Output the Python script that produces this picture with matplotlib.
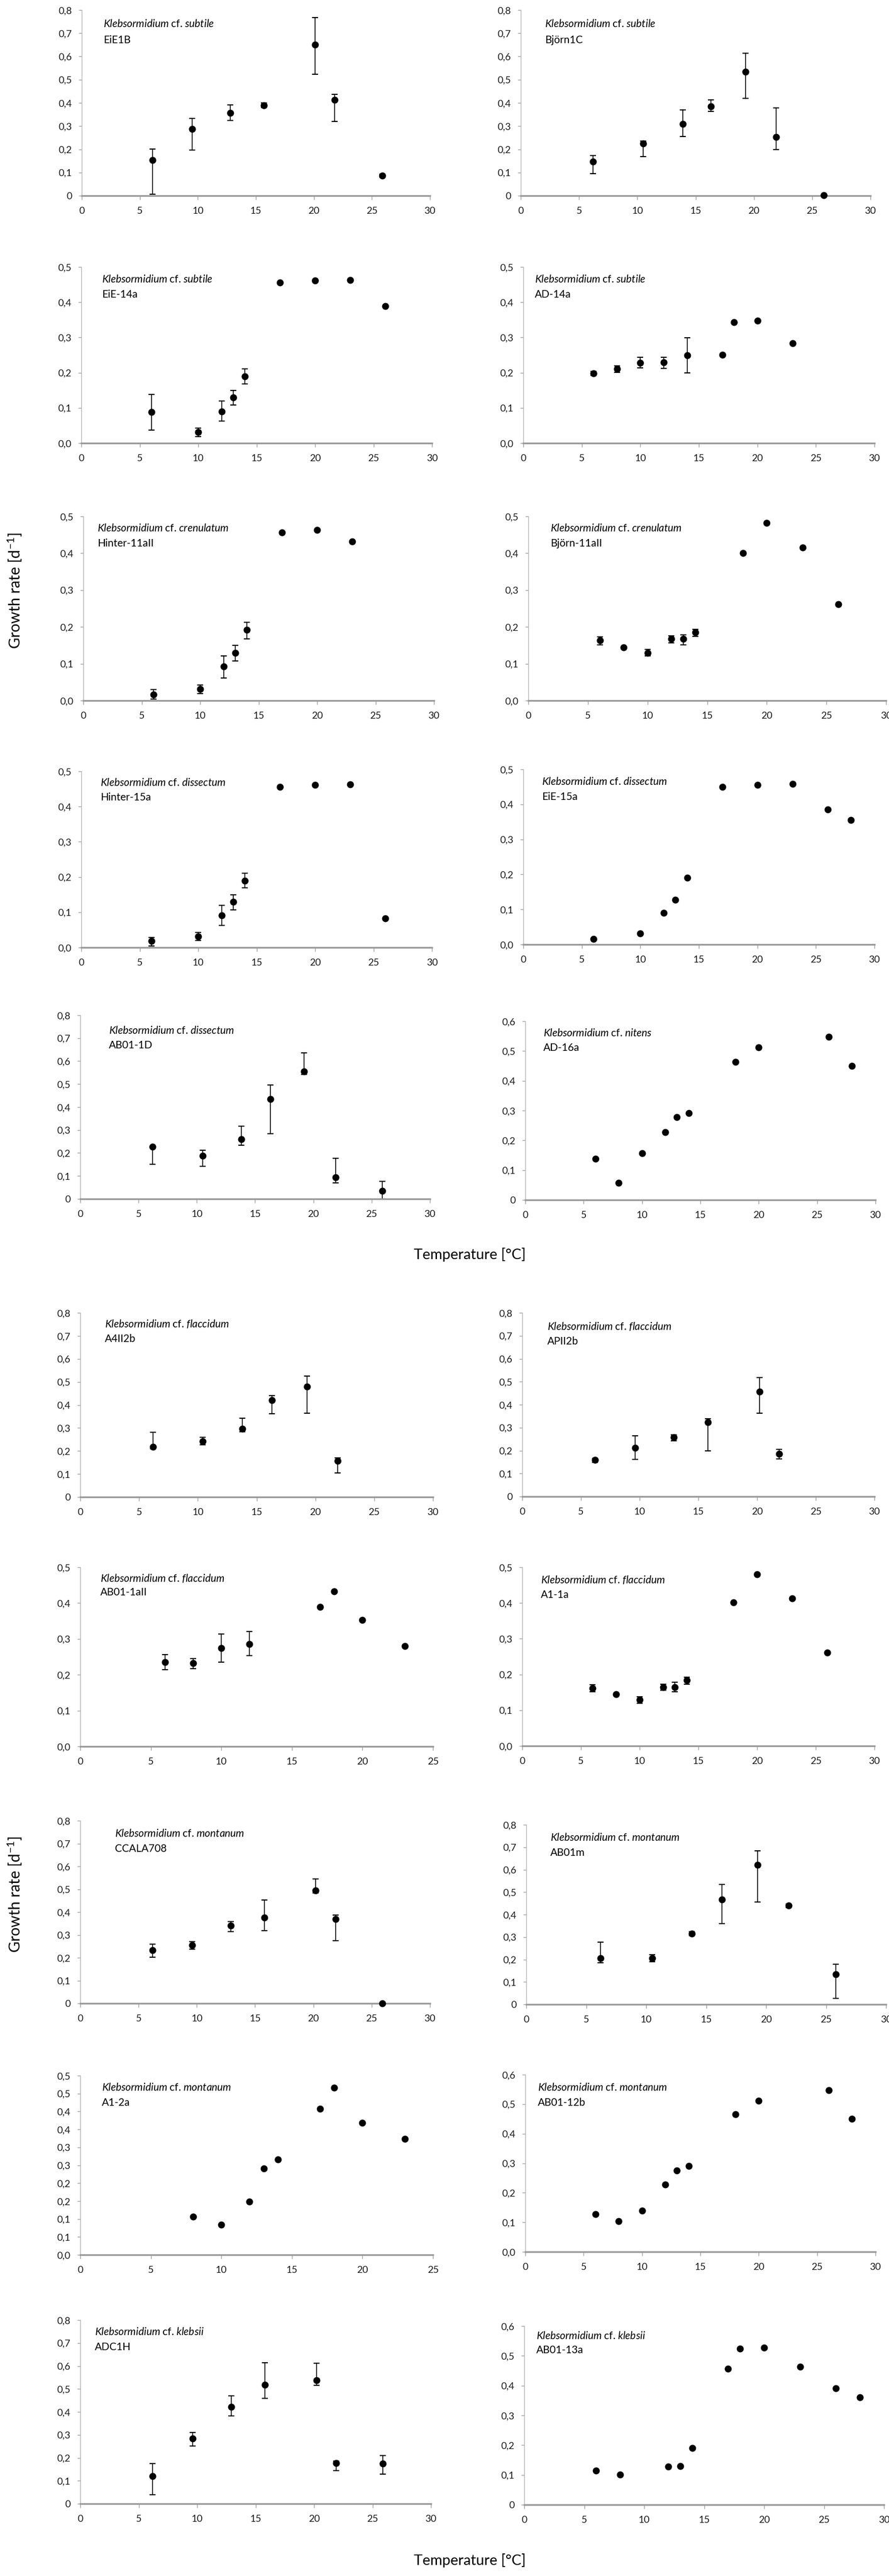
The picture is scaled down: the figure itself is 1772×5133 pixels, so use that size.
import numpy as np
import matplotlib
matplotlib.use("Agg")
import matplotlib.pyplot as plt

plt.rcParams['font.family'] = ['Lato', 'DejaVu Sans']
plt.rcParams['mathtext.fontset'] = 'custom'
plt.rcParams['mathtext.it'] = 'Lato:italic'
plt.rcParams['mathtext.rm'] = 'Lato'

# ---- data: temperature [C], growth rate [1/d], error bar bounds (None = no bar)
species = ["subtile", "subtile", "subtile", "subtile", "crenulatum", "crenulatum",
           "dissectum", "dissectum", "dissectum", "nitens",
           "flaccidum", "flaccidum", "flaccidum", "flaccidum",
           "montanum", "montanum", "montanum", "montanum", "klebsii", "klebsii"]
strains = ["EiE1B", "Björn1C", "EiE-14a", "AD-14a", "Hinter-11aII", "Björn-11aII",
           "Hinter-15a", "EiE-15a", "AB01-1D", "AD-16a",
           "A4II2b", "APII2b", "AB01-1aII", "A1-1a",
           "CCALA708", "AB01m", "A1-2a", "AB01-12b", "ADC1H", "AB01-13a"]

temp = [
    [6.1, 9.5, 12.8, 15.7, 20.1, 21.8, 25.9],
    [6.2, 10.5, 13.9, 16.3, 19.3, 21.9, 26.0],
    [6, 10, 12, 13, 14, 17, 20, 23, 26],
    [6, 8, 10, 12, 14, 17, 18, 20, 23],
    [6, 10, 12, 13, 14, 17, 20, 23],
    [6, 8, 10, 12, 13, 14, 18, 20, 23, 26],
    [6, 10, 12, 13, 14, 17, 20, 23, 26],
    [6, 10, 12, 13, 14, 17, 20, 23, 26, 28],
    [6.2, 10.5, 13.8, 16.3, 19.2, 21.9, 25.9],
    [6, 8, 10, 12, 13, 14, 18, 20, 26, 28],
    [6.2, 10.4, 13.8, 16.3, 19.3, 21.9],
    [6.2, 9.6, 12.9, 15.8, 20.2, 21.9],
    [6, 8, 10, 12, 17, 18, 20, 23],
    [6, 8, 10, 12, 13, 14, 18, 20, 23, 26],
    [6.2, 9.6, 12.9, 15.8, 20.2, 21.9, 25.9],
    [6.2, 10.5, 13.8, 16.3, 19.3, 21.9, 25.8],
    [8, 10, 12, 13, 14, 17, 18, 20, 23],
    [6, 8, 10, 12, 13, 14, 18, 20, 26, 28],
    [6.2, 9.6, 12.9, 15.8, 20.2, 21.9, 25.9],
    [6, 8, 12, 13, 14, 17, 18, 20, 23, 26, 28],
]
rate = [
    [0.153, 0.288, 0.357, 0.389, 0.650, 0.414, 0.087],
    [0.146, 0.225, 0.310, 0.385, 0.535, 0.254, 0.003],
    [0.089, 0.031, 0.090, 0.130, 0.190, 0.456, 0.462, 0.463, 0.389],
    [0.198, 0.211, 0.228, 0.229, 0.249, 0.251, 0.344, 0.347, 0.284],
    [0.017, 0.032, 0.092, 0.129, 0.192, 0.457, 0.463, 0.432],
    [0.164, 0.145, 0.129, 0.167, 0.167, 0.185, 0.401, 0.482, 0.415, 0.262],
    [0.018, 0.031, 0.091, 0.130, 0.190, 0.456, 0.462, 0.463, 0.082],
    [0.016, 0.031, 0.090, 0.128, 0.190, 0.450, 0.456, 0.459, 0.386, 0.355],
    [0.227, 0.187, 0.260, 0.435, 0.555, 0.094, 0.034],
    [0.138, 0.058, 0.157, 0.228, 0.278, 0.292, 0.464, 0.512, 0.548, 0.450],
    [0.218, 0.243, 0.296, 0.421, 0.479, 0.157],
    [0.160, 0.213, 0.259, 0.323, 0.457, 0.186],
    [0.235, 0.233, 0.275, 0.286, 0.390, 0.433, 0.353, 0.280],
    [0.162, 0.144, 0.129, 0.165, 0.165, 0.184, 0.401, 0.480, 0.413, 0.261],
    [0.232, 0.254, 0.340, 0.375, 0.495, 0.370, 0.0],
    [0.206, 0.206, 0.316, 0.467, 0.621, 0.441, 0.133],
    [0.106, 0.084, 0.149, 0.241, 0.266, 0.407, 0.466, 0.369, 0.323],
    [0.127, 0.104, 0.139, 0.228, 0.276, 0.291, 0.465, 0.511, 0.547, 0.450],
    [0.120, 0.284, 0.422, 0.518, 0.537, 0.178, 0.174],
    [0.114, 0.101, 0.128, 0.129, 0.191, 0.457, 0.525, 0.527, 0.463, 0.391, 0.361],
]
err_lo = [
    [0.006, 0.196, 0.324, 0.380, 0.523, 0.321, 0.079],
    [0.095, 0.169, 0.256, 0.364, 0.419, 0.198, None],
    [0.037, 0.019, 0.062, 0.108, 0.168],
    [0.193, 0.201, 0.213, 0.212, 0.200],
    [0.004, 0.019, 0.061, 0.108, 0.168],
    [0.151, None, 0.121, 0.157, 0.151, 0.175],
    [0.004, 0.020, 0.062, 0.107, 0.169],
    [],
    [0.150, 0.141, 0.234, 0.284, 0.543, 0.069, 0.0],
    [],
    [0.209, 0.227, 0.283, 0.361, 0.364, 0.104],
    [0.148, 0.162, 0.242, 0.198, 0.362, 0.165],
    [0.214, 0.217, 0.235, 0.254],
    [0.151, None, 0.119, 0.156, 0.151, 0.173],
    [0.203, 0.238, 0.314, 0.319, 0.483, 0.274],
    [0.186, 0.189, 0.306, 0.360, 0.456, 0.432, 0.027],
    [],
    [],
    [0.039, 0.251, 0.382, 0.460, 0.515, 0.145, 0.130],
    [],
]
err_hi = [
    [0.202, 0.334, 0.391, 0.399, 0.768, 0.436, 0.094],
    [0.174, 0.236, 0.370, 0.414, 0.615, 0.378, None],
    [0.138, 0.043, 0.120, 0.149, 0.211],
    [0.204, 0.220, 0.244, 0.244, 0.299],
    [0.030, 0.042, 0.121, 0.150, 0.212],
    [0.173, None, 0.139, 0.176, 0.178, 0.194],
    [0.028, 0.043, 0.120, 0.149, 0.211],
    [],
    [0.229, 0.212, 0.318, 0.497, 0.635, 0.178, 0.077],
    [],
    [0.281, 0.260, 0.342, 0.441, 0.525, 0.170],
    [0.166, 0.265, 0.269, 0.339, 0.517, 0.206],
    [0.256, 0.245, 0.314, 0.321],
    [0.172, None, 0.137, 0.173, 0.178, 0.193],
    [0.260, 0.270, 0.358, 0.452, 0.546, 0.386],
    [0.277, 0.221, 0.325, 0.534, 0.683, 0.448, 0.178],
    [],
    [],
    [0.175, 0.311, 0.469, 0.614, 0.611, 0.185, 0.209],
    [],
]

# axis ranges: y max, y step, x max, zero label style
y_max = [0.8, 0.8, 0.5, 0.5, 0.5, 0.5, 0.5, 0.5, 0.8, 0.6,
         0.8, 0.8, 0.5, 0.5, 0.8, 0.8, 0.5, 0.6, 0.8, 0.6]
y_step = [0.1] * 16 + [0.05, 0.1, 0.1, 0.1]
x_max = [30] * 12 + [25, 30, 30, 30, 25, 30, 30, 30]
zero_plain = [True, True, False, False, False, False, False, False, True, True,
              True, True, False, False, True, True, False, False, True, True]

# ---- layout in pixels of the 1772 x 5133 canvas: left, right, top, bottom
W, H = 1772, 5133
boxes = [
    (163, 857, 20, 390), (1038, 1735, 20, 390),
    (162, 861, 532, 883), (1043, 1743, 532, 883),
    (166, 865, 1029, 1396), (1053, 1766, 1029, 1396),
    (162, 861, 1537, 1888), (1043, 1743, 1533, 1882),
    (160, 857, 2023, 2389), (1047, 1745, 2035, 2391),
    (160, 863, 2616, 2983), (1041, 1743, 2616, 2982),
    (160, 863, 3123, 3480), (1041, 1743, 3123, 3479),
    (160, 857, 3628, 3992), (1049, 1766, 3636, 3994),
    (160, 863, 4136, 4493), (1047, 1745, 4134, 4487),
    (160, 859, 4623, 4989), (1045, 1762, 4635, 4991),
]
label_pos = [
    (0.062, 0.924, 0.838), (0.069, 0.924, 0.838),
    (0.059, 0.930, 0.843), (0.033, 0.930, 0.843),
    (0.040, 0.935, 0.853), (0.062, 0.935, 0.853),
    (0.055, 0.934, 0.852), (0.053, 0.928, 0.842),
    (0.082, 0.915, 0.836), (0.052, 0.933, 0.851),
    (0.070, 0.940, 0.858), (0.071, 0.927, 0.845),
    (0.057, 0.938, 0.860), (0.053, 0.930, 0.845),
    (0.099, 0.929, 0.846), (0.067, 0.927, 0.844),
    (0.061, 0.933, 0.849), (0.036, 0.926, 0.841),
    (0.041, 0.934, 0.852), (0.034, 0.944, 0.865),
]


def fmt_tick(v, plain_zero):
    if abs(v) < 1e-9 and plain_zero:
        return "0"
    r = np.floor(v * 10 + 0.5 + 1e-9) / 10
    return f"{r:.1f}".replace(".", ",")


fig = plt.figure(figsize=(W / 100, H / 100), dpi=100)

for i in range(20):
    l, r, t, b = boxes[i]
    ax = fig.add_axes([l / W, 1 - b / H, (r - l) / W, (b - t) / H])
    x = np.array(temp[i], dtype=float)
    y = np.array(rate[i], dtype=float)
    n_err = len(err_lo[i])
    if n_err:
        lo = np.array([np.nan if v is None else v for v in err_lo[i]], dtype=float)
        hi = np.array([np.nan if v is None else v for v in err_hi[i]], dtype=float)
        ym = y[:n_err]
        ax.errorbar(x[:n_err], ym, yerr=[ym - lo, hi - ym], fmt='none',
                    ecolor='black', elinewidth=1.2, capsize=4, capthick=1.6,
                    clip_on=False, zorder=2)
    ax.plot(x, y, 'o', color='black', markersize=9, clip_on=False, zorder=3)

    ax.set_xlim(0, x_max[i])
    ax.set_ylim(0, y_max[i])
    ax.set_xticks(np.arange(0, x_max[i] + 0.1, 5))
    ax.set_xticklabels([str(int(v)) for v in np.arange(0, x_max[i] + 0.1, 5)])
    yt = np.arange(0, y_max[i] + 1e-6, y_step[i])
    ax.set_yticks(yt)
    ax.set_yticklabels([fmt_tick(v, zero_plain[i]) for v in yt])

    for s in ['top', 'right']:
        ax.spines[s].set_visible(False)
    ax.spines['left'].set_color('#b0b0b0')
    ax.spines['left'].set_linewidth(1.0)
    ax.spines['bottom'].set_color('#9a9a9a')
    ax.spines['bottom'].set_linewidth(2.5)
    ax.tick_params(axis='x', direction='out', length=6, width=1, color='#9a9a9a',
                   labelsize=14, pad=10, labelcolor='#1a1a1a')
    ax.tick_params(axis='y', direction='out', length=4, width=1, color='#9a9a9a',
                   labelsize=14, pad=10, labelcolor='#1a1a1a')
    ax.set_facecolor('none')

    lx, ly1, ly2 = label_pos[i]
    ax.text(lx, ly1, r"$\mathit{Klebsormidium}$ cf. $\mathit{" + species[i] + "}$",
            transform=ax.transAxes, fontsize=15, ha='left', va='center')
    ax.text(lx, ly2, strains[i], transform=ax.transAxes, fontsize=15,
            ha='left', va='center')

# shared axis labels
for yc in (1177, 3775):
    fig.text(30 / W, 1 - yc / H, "Growth rate [d$^{-1}$]", rotation=90,
             ha='center', va='center', fontsize=22)
for yc in (2500, 5102):
    fig.text(937 / W, 1 - yc / H, "Temperature [°C]", ha='center', va='center',
             fontsize=21)

fig.savefig("out.png", dpi=100, facecolor='white')
